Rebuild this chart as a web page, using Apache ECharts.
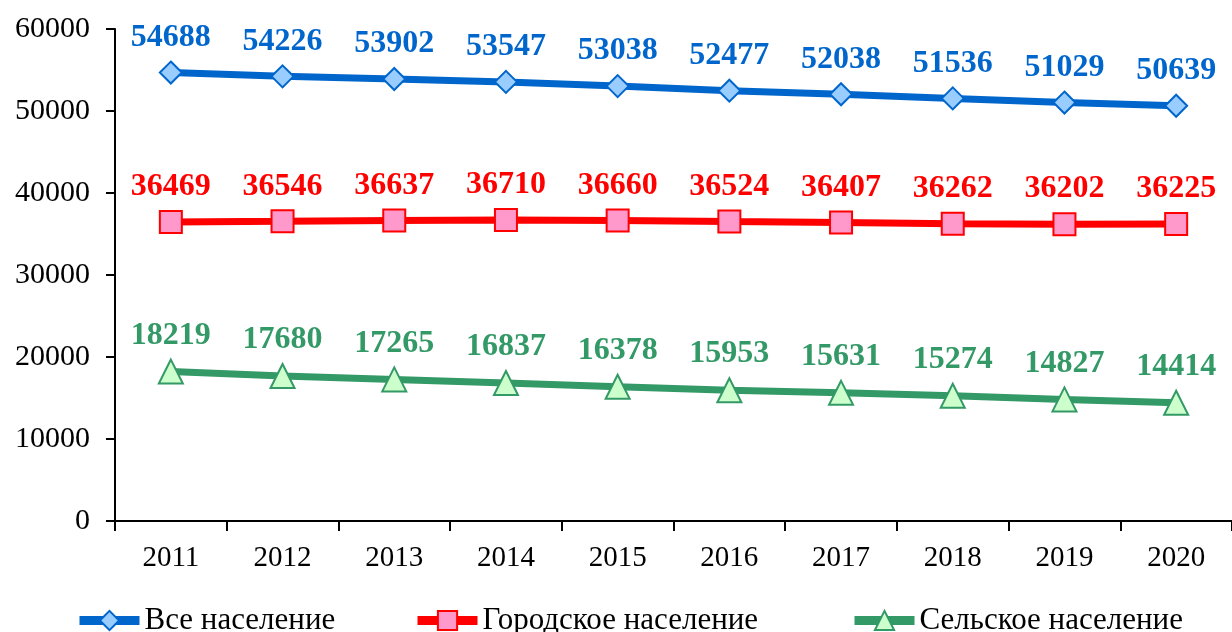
<!DOCTYPE html>
<html>
<head>
<meta charset="utf-8">
<script src="https://cdn.jsdelivr.net/npm/echarts@6/dist/echarts.min.js"></script>
<style>
  html, body { margin: 0; padding: 0; background: #fff; }
  #chart { width: 1232px; height: 632px; }
</style>
</head>
<body>
<div id="chart"></div>
<script>
var years = ['2011','2012','2013','2014','2015','2016','2017','2018','2019','2020'];
var allPop = [54688, 54226, 53902, 53547, 53038, 52477, 52038, 51536, 51029, 50639];
var urbanPop = [36469, 36546, 36637, 36710, 36660, 36524, 36407, 36262, 36202, 36225];
var ruralPop = [18219, 17680, 17265, 16837, 16378, 15953, 15631, 15274, 14827, 14414];
var seriesNames = ['Все население', 'Городское население', 'Сельское население'];

var font = '"Liberation Serif", "Times New Roman", serif';

function makeSeries(name, data, color, fill, symbol, size) {
    return {
        name: name,
        type: 'line',
        data: data,
        symbol: symbol,
        symbolSize: size,
        lineStyle: { color: color, width: 7 },
        itemStyle: { color: fill, borderColor: color, borderWidth: 2 },
        label: {
            show: true,
            position: 'top',
            distance: 7,
            color: color,
            fontFamily: font,
            fontWeight: 'bold',
            fontSize: 32
        },
        z: 3
    };
}

// one legend per series so each entry sits where it does in the picture
var legendLeft = [75, 413, 850];
var legends = seriesNames.map(function (name, i) {
    return {
        bottom: -4,
        left: legendLeft[i],
        padding: 0,
        itemWidth: 60,
        itemHeight: 24,
        lineStyle: { width: 9 },
        textStyle: { fontFamily: font, fontSize: 31, color: '#000' },
        data: [name]
    };
});

var chart = echarts.init(document.getElementById('chart'));
chart.setOption({
    animation: false,
    grid: { left: 115, right: 0, top: 29, bottom: 111, containLabel: false },
    legend: legends,
    xAxis: {
        type: 'category',
        data: years,
        boundaryGap: true,
        axisLine: { lineStyle: { color: '#000', width: 2 } },
        axisTick: { show: true, length: 10, lineStyle: { color: '#000', width: 2 } },
        axisLabel: { color: '#000', fontFamily: font, fontSize: 29, margin: 23 }
    },
    yAxis: {
        type: 'value',
        min: 0,
        max: 60000,
        interval: 10000,
        splitLine: { show: false },
        axisLine: { show: true, lineStyle: { color: '#000', width: 2 } },
        axisTick: { show: true, length: 9, lineStyle: { color: '#000', width: 2 } },
        axisLabel: {
            color: '#000', fontFamily: font, fontSize: 30, margin: 25,
            formatter: function (v) { return String(v); }
        }
    },
    series: [
        makeSeries(seriesNames[0], allPop, '#0066CC', '#99CCFF', 'diamond', 22),
        makeSeries(seriesNames[1], urbanPop, '#FF0000', '#FF99CC', 'rect', 22),
        makeSeries(seriesNames[2], ruralPop, '#339966', '#CCFFCC', 'triangle', 24)
    ]
});
</script>
</body>
</html>
